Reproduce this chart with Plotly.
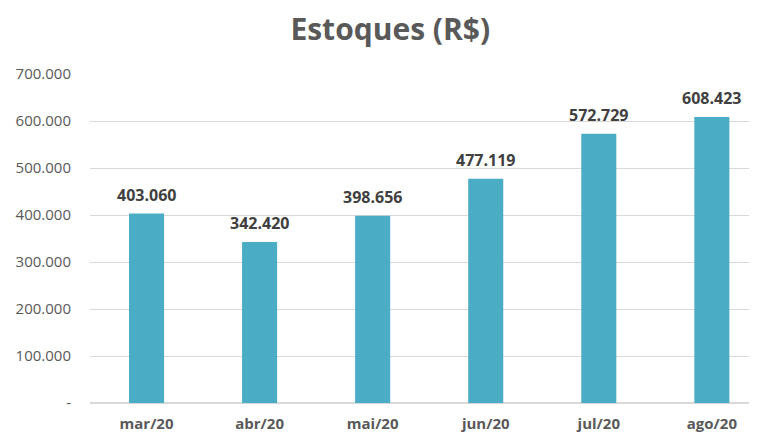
import plotly.graph_objects as go

categories = ["mar/20", "abr/20", "mai/20", "jun/20", "jul/20", "ago/20"]
values = [403060, 342420, 398656, 477119, 572729, 608423]
tick_vals = [0, 100000, 200000, 300000, 400000, 500000, 600000, 700000]
tick_text = ["-", "100.000", "200.000", "300.000", "400.000", "500.000", "600.000", "700.000"]
label_text = [f"{v:,}".replace(",", ".") for v in values]
xpos = list(range(len(categories)))

fig = go.Figure(go.Bar(
    x=xpos, y=values,
    marker=dict(color="#4BACC6", line=dict(width=0)),
    hoverinfo="x+y",
))

for xi, v, t in zip(xpos, values, label_text):
    fig.add_annotation(x=xi, y=v, text=f"<b>{t}</b>", showarrow=False,
                       yshift=19, yanchor="middle", xanchor="center",
                       font=dict(family="Open Sans", size=16, color="#404040"))

fig.update_layout(
    width=757, height=432,
    margin=dict(l=82, r=0, t=66, b=37, autoexpand=False),
    paper_bgcolor="white", plot_bgcolor="white",
    bargap=0.69,
    showlegend=False,
    title=dict(text="<b>Estoques (R$)</b>", x=0.505, xref="container", xanchor="center",
               y=0.95, yref="container", yanchor="middle",
               font=dict(family="Open Sans", size=30, color="#595959")),
    xaxis=dict(tickmode="array", tickvals=xpos, ticktext=categories,
               range=[-0.5, 5.47], showgrid=False, zeroline=False, showline=False, automargin=False,
               tickfont=dict(family="Open Sans", size=15, color="#595959", weight="bold"),
               ticks="", ticklabelstandoff=10),
    yaxis=dict(range=[0, 700000], tickvals=tick_vals, ticktext=tick_text, automargin=False,
               showgrid=True, gridcolor="#D9D9D9", gridwidth=1, zeroline=True, zerolinecolor="#D9D9D9",
               showline=False, ticks="", ticklabelstandoff=18,
               tickfont=dict(family="Open Sans", size=15, color="#595959")),
)

fig.write_html("out.html")
